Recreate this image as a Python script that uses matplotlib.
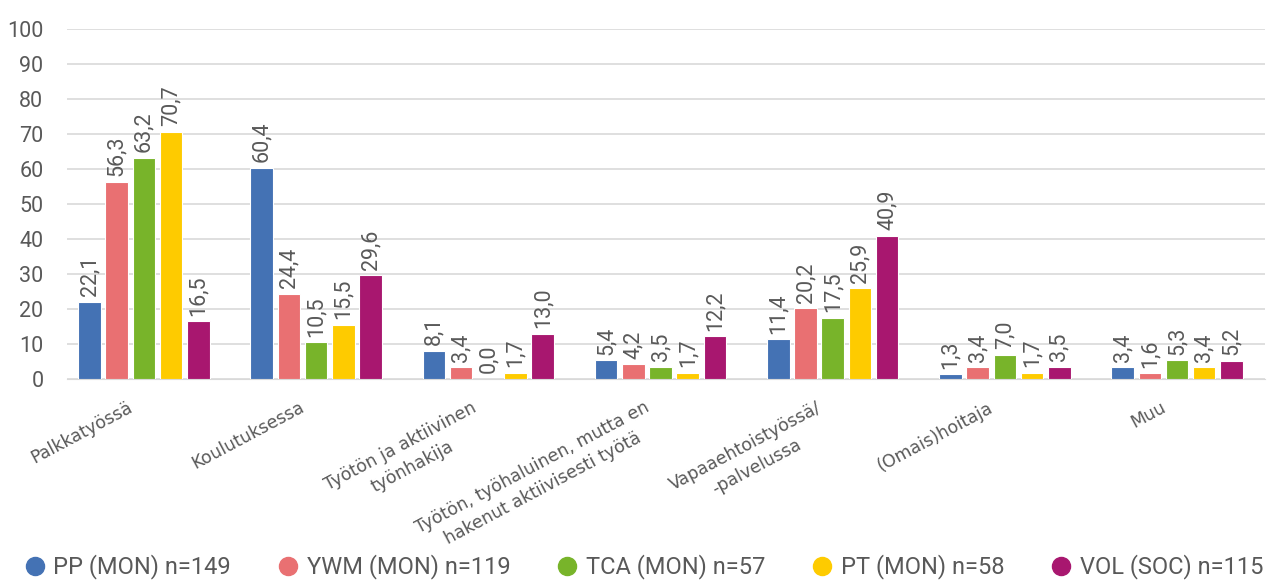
import matplotlib
matplotlib.use("Agg")
import matplotlib.pyplot as plt
import matplotlib.transforms as mtrans
import numpy as np
from matplotlib.lines import Line2D

categories = ["Palkkatyössä", "Koulutuksessa", "Työtön ja aktiivinen\ntyönhakija",
              "Työtön, työhaluinen, mutta en\nhakenut aktiivisesti työtä",
              "Vapaaehtoistyössä/\n-palvelussa", "(Omais)hoitaja", "Muu"]
series_names = ["PP (MON) n=149", "YWM (MON) n=119", "TCA (MON) n=57",
                "PT (MON) n=58", "VOL (SOC) n=115"]
pp = [22.1, 60.4, 8.1, 5.4, 11.4, 1.3, 3.4]
ywm = [56.3, 24.4, 3.4, 4.2, 20.2, 3.4, 1.6]
tca = [63.2, 10.5, 0.0, 3.5, 17.5, 7.0, 5.3]
pt = [70.7, 15.5, 1.7, 1.7, 25.9, 1.7, 3.4]
vol = [16.5, 29.6, 13.0, 12.2, 40.9, 3.5, 5.2]
colors = ["#4472B4", "#E97072", "#78B42A", "#FECB00", "#A8176F"]
yticks = [0, 10, 20, 30, 40, 50, 60, 70, 80, 90, 100]

plt.rcParams["font.family"] = ["Roboto", "DejaVu Sans"]
txt = "#595959"

fig = plt.figure(figsize=(12.72, 5.81), dpi=100)
ax = fig.add_axes([67/1272, 1-379/581, (1265-67)/1272, 350/581])

series = [pp, ywm, tca, pt, vol]
x = np.arange(len(categories))
bw = 0.131
pitch = 0.158
for i, (vals, c) in enumerate(zip(series, colors)):
    xs = x + (i - 2) * pitch
    ax.bar(xs, vals, width=bw, color=c, edgecolor="white", linewidth=0.8, zorder=3)
    for xv, v in zip(xs, vals):
        ax.annotate(f"{v:.1f}".replace(".", ","), (xv, v), xytext=(0, 4),
                    textcoords="offset points", rotation=90, ha="center", va="bottom",
                    fontsize=15.5, color=txt)

ax.set_ylim(0, 100)
ax.set_xlim(-0.447, 6.511)
ax.set_yticks(yticks)
ax.set_yticklabels([str(t) for t in yticks], fontsize=15.5, color=txt)
ax.yaxis.grid(True, color="#D9D9D9", linewidth=1.2, zorder=0)
ax.tick_params(axis="y", length=0, pad=17)
ax.tick_params(axis="x", length=0, pad=14)
ax.set_xticks(x)
ax.set_xticklabels(categories, rotation=28, ha="right", rotation_mode="anchor",
                   fontsize=12.5, color=txt, multialignment="center",
                   family=["DejaVu Sans"], linespacing=1.4)
shift = mtrans.ScaledTranslation(-17/100, 0, fig.dpi_scale_trans)
for lbl in ax.get_xticklabels():
    lbl.set_transform(lbl.get_transform() + shift)
for s in ["top", "right", "left"]:
    ax.spines[s].set_visible(False)
ax.spines["bottom"].set_color("#D9D9D9")

handles = [Line2D([0], [0], marker="o", linestyle="none", markersize=13,
                  markerfacecolor=c, markeredgecolor=c) for c in colors]
fig.legend(handles, series_names, loc="center", bbox_to_anchor=(643/1272, 1-567/581),
           ncol=5, frameon=False, fontsize=17, labelcolor=txt, handletextpad=0.3,
           columnspacing=1.9, handlelength=1.0)

fig.savefig("out.png", dpi=100)
